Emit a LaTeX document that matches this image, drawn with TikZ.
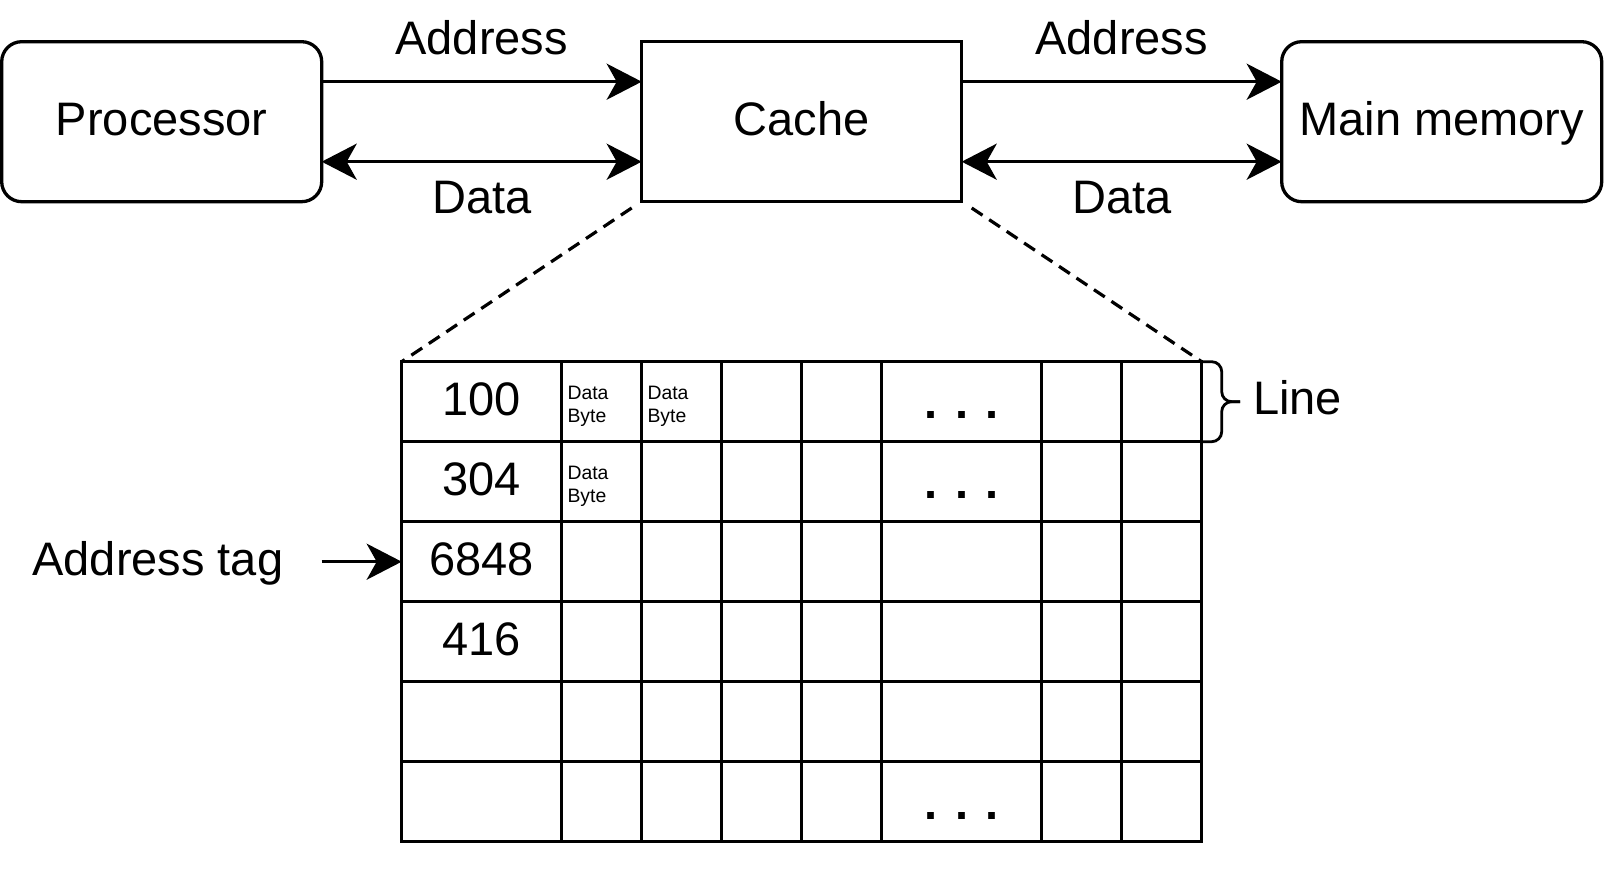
\documentclass[tikz,border=0pt]{standalone}
\usepackage{fontspec}
\setmainfont{Liberation Sans}
\usetikzlibrary{arrows.meta,calc}
\begin{document}
\begin{tikzpicture}[x=0.5pt,y=-0.5pt,
  cls/.tip={Stealth[length=17.5pt,width=18pt,inset=5pt]},
  every node/.style={inner sep=0pt,outer sep=0pt},
  big/.style={font=\fontsize{23.5}{28}\selectfont},
  box/.style={draw,line width=1.65pt,minimum width=160pt,minimum height=80pt,big,text height=16pt,text depth=2.5pt},
  rbox/.style={box,rounded corners=10pt},
  tagcell/.style={minimum width=80pt,minimum height=40pt,big,text height=16pt,text depth=2.5pt},
  conn/.style={line width=1.65pt},
  gridline/.style={line width=1.65pt},
  small/.style={font=\fontsize{9.7}{11.65}\selectfont},
  dotstyle/.style={font=\fontsize{23.5}{28}\selectfont\bfseries},
  dashline/.style={line width=1.6pt,dash pattern=on 6.5pt off 4pt},
  bracestyle/.style={line width=1.4pt,rounded corners=5pt},
]
\useasboundingbox (0,0) rectangle (1604,876);
% top boxes
\node[rbox] (proc) at (161.7,121.7) {Processor};
\node[box] (cache) at (801.7,121.7) {Cache};
\node[rbox] (mem) at (1441.7,121.7) {Main memory};
% connectors
\draw[conn,-cls] ($(proc.north east)!0.25!(proc.south east)$) -- node[big,anchor=base,yshift=13.35pt] (lbla1) {Address} ($(cache.north west)!0.25!(cache.south west)$);
\draw[conn,cls-cls] ($(proc.north east)!0.75!(proc.south east)$) -- node[big,anchor=base,yshift=-25.8pt] (lbld1) {Data} ($(cache.north west)!0.75!(cache.south west)$);
\draw[conn,-cls] ($(cache.north east)!0.25!(cache.south east)$) -- node[big,anchor=base,yshift=13.35pt] (lbla2) {Address} ($(mem.north west)!0.25!(mem.south west)$);
\draw[conn,cls-cls] ($(cache.north east)!0.75!(cache.south east)$) -- node[big,anchor=base,yshift=-25.8pt] (lbld2) {Data} ($(mem.north west)!0.75!(mem.south west)$);
% table
\node[draw,line width=1.65pt,minimum width=400pt,minimum height=240pt] (tbl) at (801.7,601.7) {};
\foreach \c in {160,240,320,400,480,640,720}
  \draw[gridline] (401.7+\c,361.7) -- (401.7+\c,841.7);
\foreach \r in {80,160,240,320,400}
  \draw[gridline] (401.7,361.7+\r) -- (1201.7,361.7+\r);
% tags
\node[tagcell] (t1) at (481.7,401.7) {100};
\node[tagcell] (t2) at (481.7,481.7) {304};
\node[tagcell] (t3) at (481.7,561.7) {6848};
\node[tagcell] (t4) at (481.7,641.7) {416};
% data bytes
\node[small,anchor=base west] (d11) at (567.5,399.2) {\vtop{\hbox{Data}\hbox{Byte}}};
\node[small,anchor=base west] (d12) at (647.5,399.2) {\vtop{\hbox{Data}\hbox{Byte}}};
\node[small,anchor=base west] (d21) at (567.5,479.2) {\vtop{\hbox{Data}\hbox{Byte}}};
% dots
\node[dotstyle,anchor=base] (dots1) at (961.7,418.5) {. . .};
\node[dotstyle,anchor=base] (dots2) at (961.7,498.5) {. . .};
\node[dotstyle,anchor=base] (dots3) at (961.7,819) {. . .};
% dashed zoom lines
\coordinate (dl) at (631.7,208);
\coordinate (dr) at (971.7,208);
\draw[dashline] (dl) -- (tbl.north west);
\draw[dashline] (dr) -- (tbl.north east);
% brace
\draw[bracestyle] (1203,361.7) -- (1221.7,361.7) -- (1221.7,401.7) -- (1240,401.7);
\draw[bracestyle] (1203,441.7) -- (1221.7,441.7) -- (1221.7,401.7) -- (1240,401.7);
\node[big,anchor=base west] (linelbl) at (1253,415) {Line};
% address tag
\node[big,anchor=base west] (atag) at (32.5,575) {Address tag};
\coordinate (atagstart) at (321.5,561.7);
\draw[conn,-cls] (atagstart) -- (t3.west);
\end{tikzpicture}
\end{document}
